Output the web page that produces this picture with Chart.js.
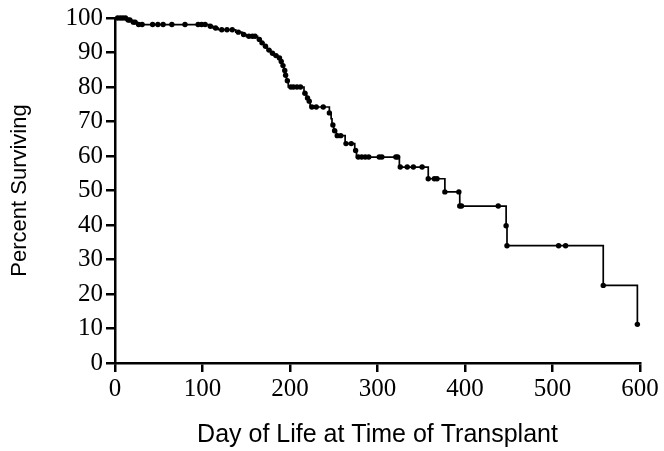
<!DOCTYPE html>
<html><head><meta charset="utf-8">
<script src="https://cdn.jsdelivr.net/npm/chart.js@4"></script>
<style>html,body{margin:0;padding:0;background:#fff;}</style>
</head><body>
<canvas id="c" width="664" height="451"></canvas>
<script>
// Kaplan-Meier step curve: day of each drop and survival (%) after it
const eventDays = [0, 13, 19, 25, 107, 112, 118, 138, 145, 150, 163, 167, 170, 174, 178, 182, 186, 189, 191, 193, 195, 196, 198, 216, 219, 221, 223, 245, 247, 248, 250, 253, 263, 274, 276, 325, 358, 377, 394, 447, 448, 558, 597];
const eventSurvival = [100, 99.4, 98.8, 98.1, 97.6, 97.1, 96.6, 95.9, 95.2, 94.7, 93.8, 92.8, 91.8, 90.7, 89.8, 89.1, 88.4, 87.4, 86.2, 84.8, 83.4, 81.8, 80.0, 78.2, 76.8, 75.9, 74.2, 72.5, 70.8, 69.0, 67.3, 65.9, 63.6, 61.6, 59.7, 56.8, 53.4, 49.6, 45.5, 39.8, 34.0, 22.5, 11.2];
// Censored observations (dots)
const censorDays = [3, 6, 9, 12, 15, 17, 21, 23, 27, 31, 43, 49, 55, 65, 80, 95, 99, 103, 109, 115, 122, 128, 134, 141, 147, 153, 157, 160, 165, 168, 172, 176, 180, 184, 188, 190, 192, 194, 195, 197, 201, 204, 208, 212, 217, 220, 222, 225, 230, 238, 245, 249, 251, 254, 258, 264, 270, 275, 278, 282, 286, 290, 302, 305, 321, 323, 326, 334, 341, 351, 358, 365, 368, 377, 393, 394, 396, 438, 447, 448, 507, 515, 558, 597];
const censorSurvival = [100, 100, 100, 100, 99.4, 99.4, 98.8, 98.8, 98.1, 98.1, 98.1, 98.1, 98.1, 98.1, 98.1, 98.1, 98.1, 98.1, 97.6, 97.1, 96.6, 96.6, 96.6, 95.9, 95.2, 94.7, 94.7, 94.7, 93.8, 92.8, 91.8, 90.7, 89.8, 89.1, 88.4, 87.4, 86.2, 84.8, 83.4, 81.8, 80.0, 80.0, 80.0, 80.0, 78.2, 76.8, 75.9, 74.2, 74.2, 74.2, 72.5, 69.0, 67.3, 65.9, 65.9, 63.6, 63.6, 61.6, 59.7, 59.7, 59.7, 59.7, 59.7, 59.7, 59.7, 59.7, 56.8, 56.8, 56.8, 56.8, 53.4, 53.4, 53.4, 49.6, 49.6, 45.5, 45.5, 45.5, 39.8, 34.0, 34.0, 34.0, 22.5, 11.2];
const xTicks = [0, 100, 200, 300, 400, 500, 600];
const yTicks = [0, 10, 20, 30, 40, 50, 60, 70, 80, 90, 100];
const xTitle = 'Day of Life at Time of Transplant';
const yTitle = 'Percent Surviving';

const tickFont = {family: "'Liberation Serif', 'Times New Roman', serif", size: 25};
const titleFontX = {family: "'Liberation Sans', Arial, sans-serif", size: 25};
const titleFontY = {family: "'Liberation Sans', Arial, sans-serif", size: 22};

new Chart(document.getElementById('c'), {
  type: 'line',
  data: {
    datasets: [
      {
        data: eventDays.map((d, i) => ({x: d, y: eventSurvival[i]})),
        stepped: true,
        borderColor: '#000',
        borderWidth: 1.7,
        pointRadius: 0,
        fill: false,
        clip: false
      },
      {
        data: censorDays.map((d, i) => ({x: d, y: censorSurvival[i]})),
        showLine: false,
        pointRadius: 2.7,
        pointBackgroundColor: '#000',
        pointBorderColor: '#000',
        pointBorderWidth: 0,
        clip: false
      }
    ]
  },
  options: {
    responsive: false,
    animation: false,
    devicePixelRatio: 1,
    layout: {padding: {top: 15, right: 24, bottom: 0, left: 0}},
    plugins: {legend: {display: false}, tooltip: {enabled: false}},
    scales: {
      x: {
        type: 'linear', min: 0, max: 600,
        afterBuildTicks: s => { s.ticks = xTicks.map(v => ({value: v})); },
        ticks: {color: '#000', font: tickFont, padding: 2, maxRotation: 0},
        grid: {drawOnChartArea: false, drawTicks: true, tickLength: 9, color: '#000', lineWidth: 2.5},
        border: {color: '#000', width: 2.5},
        title: {display: true, text: xTitle, color: '#000', font: titleFontX, padding: {top: 0, bottom: 1}},
        afterFit: s => { s.height = 88; }
      },
      y: {
        type: 'linear', min: 0, max: 100,
        afterBuildTicks: s => { s.ticks = yTicks.map(v => ({value: v})); },
        ticks: {color: '#000', font: tickFont, padding: 3},
        grid: {drawOnChartArea: false, drawTicks: true, tickLength: 9, color: '#000', lineWidth: 2.5},
        border: {color: '#000', width: 2.5},
        title: {display: true, text: yTitle, color: '#000', font: titleFontY, padding: {top: 7, bottom: 0}},
        afterFit: s => { s.width = 115; }
      }
    }
  }
});
</script>
</body></html>
